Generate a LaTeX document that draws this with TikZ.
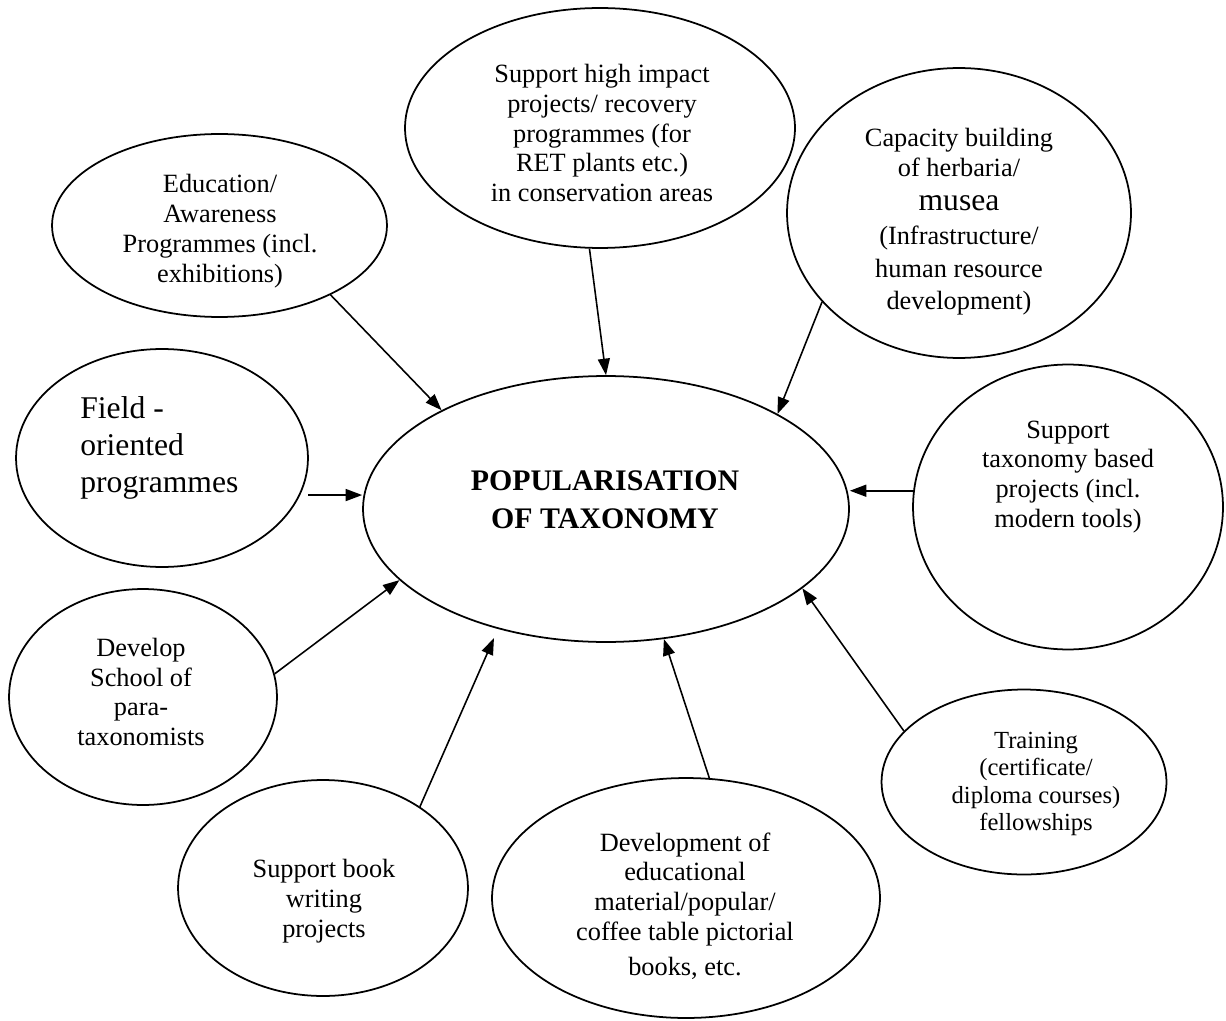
\documentclass[tikz,border=0pt]{standalone}
\usepackage{fontspec}
\setmainfont{Liberation Serif}
\usetikzlibrary{shapes.geometric,arrows.meta}
\begin{document}
\begin{tikzpicture}[x=0.02cm,y=-0.02cm,
  bubble/.style={draw,ellipse,line width=1pt,inner sep=0pt},
  txt/.style={align=center,inner sep=0pt,font=\fontsize{15}{17}\selectfont},
  arr/.style={-{Triangle[length=0.33cm,width=0.24cm]},line width=0.9pt}]
\useasboundingbox[fill=white] (0,0) rectangle (1226,1020);

% ellipses
\node[bubble,minimum width=9.72cm,minimum height=5.32cm] (c) at (606,509) {};
\node[bubble,minimum width=7.8cm,minimum height=4.8cm] (top) at (600,128) {};
\node[bubble,minimum width=6.7cm,minimum height=3.66cm] (edu) at (219.5,225.5) {};
\node[bubble,minimum width=6.88cm,minimum height=5.8cm] (cap) at (959,213) {};
\node[bubble,minimum width=5.84cm,minimum height=4.36cm] (field) at (162,458) {};
\node[bubble,minimum width=6.2cm,minimum height=5.7cm] (tax) at (1068,507) {};
\node[bubble,minimum width=5.36cm,minimum height=4.32cm] (school) at (143,697) {};
\node[bubble,minimum width=5.8cm,minimum height=4.32cm] (book) at (323,888) {};
\node[bubble,minimum width=7.76cm,minimum height=4.8cm] (dev) at (686,898) {};
\node[bubble,minimum width=5.7cm,minimum height=3.7cm] (train) at (1024,782) {};

% labels
\node[txt,font=\bfseries\fontsize{17}{21.6}\selectfont] (ctext) at (605,500) {POPULARISATION\\OF TAXONOMY};
\node[txt] (toptext) at (602,133) {Support high impact\\projects/ recovery\\programmes (for\\RET plants etc.)\\in conservation areas};
\node[txt] (edutext) at (220,231) {Education/\\Awareness\\Programmes (incl.\\exhibitions)};
\node[txt] (captext) at (959,222) {Capacity building\\of herbaria/\\[0.08cm]{\fontsize{18}{20}\selectfont musea}\\[0.08cm](Infrastructure/\\[0.06cm]human resource\\[0.05cm]development)};
\node[txt,align=left,anchor=west,font=\fontsize{18}{21}\selectfont] (fieldtext) at (80,448) {Field -\\oriented\\programmes};
\node[txt] (taxtext) at (1068,477) {Support\\taxonomy based\\projects (incl.\\modern tools)};
\node[txt,font=\fontsize{14}{15.6}\selectfont] (traintext) at (1036,784) {Training\\(certificate/\\diploma courses)\\fellowships};
\node[txt] (schooltext) at (141,692) {Develop\\School of\\para-\\taxonomists};
\node[txt] (booktext) at (324,901) {Support book\\writing\\projects};
\node[txt] (devtext) at (685,906) {Development of\\educational\\material/popular/\\coffee table pictorial\\[0.1cm]books, etc.};

% connectors into the centre
\draw[arr] (edu.-32.6) -- (c.149.5);
\draw[arr] (top.-95.2) -- (c.90);
\draw[arr] (cap.-147.3) -- (c.29.6);
\draw[arr,shorten <=0.16cm] (field.-15) -- (field.-15 -| c.west);
\draw[arr] (tax.174.8) -- (tax.174.8 -| c.east);
\draw[arr] (school.10.3) -- (c.-161.9);
\draw[arr,shorten >=0.2cm] (book.40.6) -- (c.-132.4);
\draw[arr] (dev.79) -- (c.-66.9);
\draw[arr] (train.157.1) -- (c.-22.3);
\end{tikzpicture}
\end{document}
